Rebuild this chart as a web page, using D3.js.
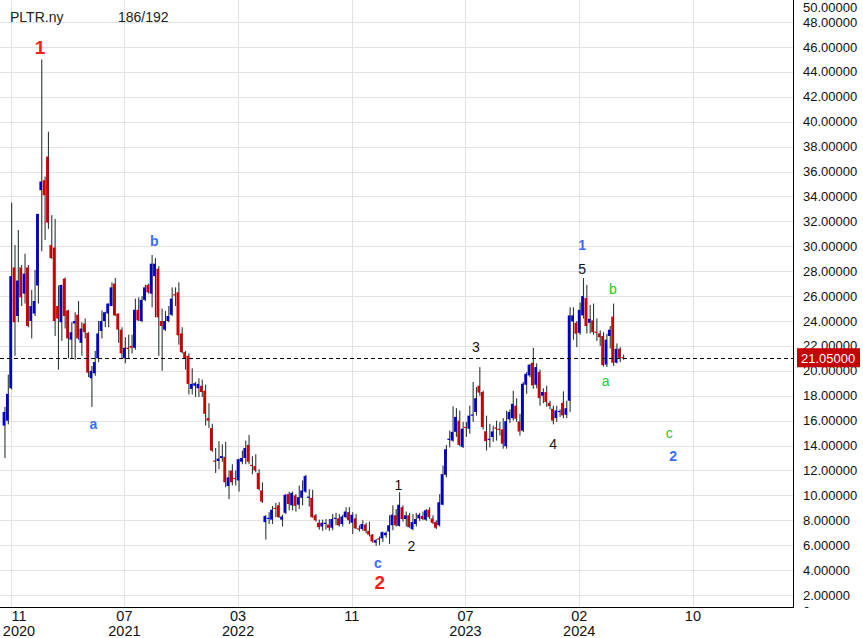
<!DOCTYPE html>
<html><head><meta charset="utf-8">
<script src="https://cdn.jsdelivr.net/npm/d3@7"></script>
<style>html,body{margin:0;padding:0;background:#fff;}svg{display:block;}</style>
</head><body>
<div id="chart"></div>
<script>
// ---- DATA (weekly bars, first bar index = -2) ----
const firstIndex = -2;
const opens = [15.6,16.0,18.6,28.3,24.4,28.3,26.2,28.3,24.0,24.6,26.85,34.5,35.3,37.2,30.1,29.9,25.2,23.9,27.4,24.85,22.5,23.8,24.5,22.25,23.8,23.05,19.4,19.8,21.0,23.2,24.0,24.6,25.2,27.0,24.6,23.3,21.0,21.85,22.0,21.85,24.9,24.0,25.7,26.9,26.2,27.6,28.2,24.0,23.3,24.0,24.5,26.15,26.3,23.0,21.5,21.2,18.55,18.8,18.6,18.8,18.4,16.2,15.4,12.8,12.75,13.0,13.1,10.75,12.0,11.4,11.2,12.7,13.0,14.05,12.45,12.35,11.8,10.4,7.85,8.1,8.05,9.0,9.2,8.05,8.6,10.1,9.2,10.0,9.25,9.8,10.3,9.8,9.8,8.4,7.8,7.5,7.75,7.65,7.4,8.1,8.15,7.7,8.25,8.65,7.8,8.15,7.35,7.3,7.65,7.15,6.85,6.2,6.55,6.55,6.8,7.1,7.6,8.4,7.55,9.05,8.1,8.4,7.3,7.7,8.15,8.35,8.05,8.85,8.15,7.85,7.6,9.25,11.65,14.45,14.4,15.1,16.0,13.9,15.5,15.35,16.4,16.7,18.8,18.3,15.15,14.5,14.68,15.45,15.35,15.3,13.95,16.1,16.2,17.2,15.93,15.2,18.88,19.63,20.65,18.88,19.9,18.0,18.29,17.43,16.95,16.2,16.7,17.43,16.47,17.6,23.96,23.86,23.05,24.45,25.84,23.86,24.05,23.15,23.0,22.8,20.5,22.8,24.35,20.65,21.77,21.1];
const highs = [17.1,19.7,33.5,30.1,31.3,28.5,29.4,28.5,26.5,28.1,32.6,45.0,35.6,39.2,32.5,32.2,26.85,26.9,27.5,24.9,23.9,24.7,25.6,23.9,24.2,23.1,20.4,21.6,24.0,24.85,24.75,25.4,27.1,27.45,24.6,23.5,22.7,22.9,22.9,25.8,25.9,26.0,26.9,27.0,29.3,29.05,28.4,25.0,24.8,25.2,26.7,26.7,27.1,23.5,21.6,21.4,20.2,19.1,19.4,19.3,18.9,17.4,15.75,13.8,14.35,14.1,14.3,12.0,12.5,12.0,12.95,13.6,14.4,14.85,13.15,13.3,12.1,11.05,8.4,8.65,9.15,9.4,9.45,8.45,10.1,10.3,10.3,10.1,10.8,11.2,11.65,10.5,10.45,8.5,8.05,8.05,8.1,8.1,8.5,8.6,8.5,8.45,9.05,9.05,8.65,8.5,7.6,8.0,7.8,7.9,6.9,6.5,6.7,7.1,7.1,8.4,9.2,8.9,10.25,9.2,8.7,8.6,8.5,8.6,8.6,8.7,8.9,9.05,8.4,8.0,10.1,12.4,14.05,15.2,17.15,17.0,16.8,15.9,15.9,17.2,19.1,18.7,20.3,18.4,16.4,15.75,15.6,16.0,15.9,16.2,16.8,16.9,18.4,17.8,16.55,19.1,19.9,20.57,21.85,20.6,20.1,18.6,18.8,17.6,17.2,17.2,16.9,18.35,17.6,25.1,25.1,24.0,25.5,27.45,26.9,25.3,25.4,24.2,23.25,23.1,22.97,23.6,25.4,22.2,21.9,21.3];
const lows = [13.0,15.7,18.5,21.2,23.9,25.2,25.4,23.5,22.6,24.4,25.4,29.6,30.5,31.4,29.0,22.8,20.1,22.4,23.4,21.0,21.0,20.9,22.5,21.2,22.6,19.5,17.1,19.6,20.7,22.6,23.5,23.5,25.2,24.4,22.25,21.0,20.6,21.0,21.4,21.7,24.0,23.9,25.6,26.2,25.1,24.3,21.2,20.0,23.2,23.9,24.4,25.2,22.1,21.4,20.1,18.1,18.1,17.9,17.9,17.9,15.6,15.4,13.5,11.8,12.1,12.7,10.65,9.7,10.8,10.8,10.3,12.5,12.5,12.5,11.7,11.85,10.4,9.4,6.45,7.7,7.7,8.25,8.2,7.5,8.5,8.8,8.8,8.7,8.9,9.2,10.2,9.1,8.2,7.9,7.25,7.15,7.25,7.15,7.2,7.6,7.5,7.5,8.15,7.7,6.9,7.3,7.1,7.15,6.95,6.7,6.2,5.95,6.0,6.25,6.6,6.1,7.2,7.5,7.5,7.9,7.5,7.4,7.2,7.5,7.95,8.0,7.95,8.1,7.7,7.3,7.5,9.2,11.45,13.85,14.3,14.7,13.95,13.8,14.7,14.95,15.9,16.4,18.0,15.3,13.6,13.85,14.3,14.4,14.8,13.75,13.75,15.8,16.0,15.9,14.8,15.08,18.16,19.5,18.56,18.6,17.2,17.4,17.1,16.9,15.7,15.9,16.3,16.2,16.2,16.7,22.5,21.9,22.9,24.2,23.0,23.0,22.9,22.4,22.0,20.35,20.3,21.8,20.4,20.6,20.7,20.9];
const closes = [16.7,18.15,27.6,23.9,27.25,25.9,27.8,23.6,25.2,25.6,32.6,35.2,34.1,31.9,29.05,24.0,24.2,26.9,24.4,22.6,23.1,24.0,22.6,23.4,23.1,19.85,20.0,20.7,23.0,24.0,24.7,25.4,26.7,24.45,23.3,21.4,21.85,21.75,21.85,24.9,24.05,25.7,26.7,26.3,28.6,28.6,24.3,23.6,24.0,24.4,25.8,26.05,22.85,21.5,21.0,18.95,18.95,19.0,18.95,18.3,16.55,16.0,13.6,12.7,12.95,13.15,11.05,11.45,11.05,11.35,12.9,13.0,13.8,12.7,12.4,12.0,10.5,9.5,8.35,8.2,8.85,8.95,8.25,8.3,10.05,9.3,10.2,9.15,9.85,10.4,11.55,9.9,8.25,8.0,7.45,7.8,7.8,7.4,8.1,8.2,7.6,8.3,8.7,8.0,8.45,7.35,7.3,7.7,7.15,6.85,6.3,6.4,6.45,7.05,7.0,7.6,8.45,7.6,9.25,8.1,8.4,7.45,7.85,8.1,8.45,8.1,8.8,8.25,7.8,7.4,9.45,11.7,13.7,14.55,15.1,16.3,14.05,15.35,15.4,16.4,16.5,17.8,18.25,15.48,14.35,14.55,15.13,15.38,15.25,14.15,15.96,16.7,17.35,16.15,15.13,18.96,19.76,20.49,18.83,20.3,17.81,18.3,17.49,17.17,16.0,16.82,16.78,16.42,17.0,24.45,24.45,22.98,24.9,26.0,23.6,24.18,23.1,23.05,22.7,20.45,22.5,23.3,20.65,21.77,21.05,21.05];

const tickIdx    = [0, 34, 68, 102, 136, 170, 204];
const tickMonths = ["11","07","03","11","07","02","10"];
const tickYears  = ["2020","2021","2022","","2023","2024",""];
const yTickValues = d3.range(0, 51, 2);
const lastPrice = 21.05;

// wave labels: bar index, price, text, style
const waveIdx   = [8.8, 24.7, 42.9, 109.8, 110.4, 115.9, 119.8, 139.1, 162.2, 170.9, 170.9, 177.9, 180.1, 196.9, 198.1];
const wavePrice = [46.0, 15.7, 30.4, 4.57, 3.0, 10.8, 5.9, 21.9, 14.1, 28.2, 30.1, 19.2, 26.6, 15.0, 13.2];
const waveText  = ["1","a","b","c","2","1","2","3","4","5","1","a","b","c","2"];
const waveKind  = ["red","blue","blue","blue","red","black","black","black","black","black","blue","green","green","green","blue"];

// ---- CHART ----
const W = 863, H = 638;
const plotR = 793, plotB = 607;
const x = d3.scaleLinear().domain([0, 204]).range([10.7, 692.9]);
const y = d3.scaleLinear().domain([2, 46]).range([595, 47]);

const svg = d3.select("#chart").append("svg").attr("width", W).attr("height", H);
const defs = svg.append("defs");
defs.append("clipPath").attr("id","plotClip").append("rect").attr("x",0).attr("y",0).attr("width",plotR).attr("height",plotB);
defs.append("clipPath").attr("id","axClip").append("rect").attr("x",plotR).attr("y",0).attr("width",W-plotR).attr("height",plotB+1);

const grid = svg.append("g").attr("clip-path","url(#plotClip)");
grid.selectAll("line.h").data(yTickValues.filter(v => y(v) > 0 && y(v) < plotB)).join("line")
  .attr("x1",0).attr("x2",plotR).attr("y1",d=>Math.round(y(d))+0.5).attr("y2",d=>Math.round(y(d))+0.5)
  .attr("stroke","#e2e2e2").attr("stroke-width",1);
grid.selectAll("line.v").data(tickIdx.filter(i => x(i) < plotR)).join("line")
  .attr("x1",d=>Math.round(x(d))+0.5).attr("x2",d=>Math.round(x(d))+0.5).attr("y1",0).attr("y2",plotB)
  .attr("stroke","#e2e2e2").attr("stroke-width",1);

// bars
const bars = opens.map((o,k)=>({i:firstIndex+k,o,h:highs[k],l:lows[k],c:closes[k]}));
const bg = svg.append("g").attr("clip-path","url(#plotClip)");
bg.selectAll("rect.wick").data(bars).join("rect")
  .attr("x",d=>x(d.i)+0.4).attr("width",1.1)
  .attr("y",d=>y(d.h)).attr("height",d=>Math.max(1,y(d.l)-y(d.h)))
  .attr("fill","#2e3838");
bg.selectAll("rect.body").data(bars).join("rect")
  .attr("x",d=>x(d.i)-1.4).attr("width",2.6)
  .attr("y",d=>y(Math.max(d.o,d.c))).attr("height",d=>Math.max(1.2,Math.abs(y(d.o)-y(d.c))))
  .attr("fill",d=>d.c>=d.o?"#0000cc":"#cc0000");

// dashed last price line
svg.append("line").attr("x1",0).attr("x2",plotR).attr("y1",Math.round(y(lastPrice))+0.5).attr("y2",Math.round(y(lastPrice))+0.5)
  .attr("stroke","#000").attr("stroke-width",1).attr("stroke-dasharray","4,3");

// axes lines
svg.append("line").attr("x1",plotR+0.5).attr("x2",plotR+0.5).attr("y1",0).attr("y2",plotB+1).attr("stroke","#000");
svg.append("line").attr("x1",0).attr("x2",plotR+1).attr("y1",plotB+0.5).attr("y2",plotB+0.5).attr("stroke","#000");

// y labels
const yl = svg.append("g").attr("clip-path","url(#axClip)");
yl.selectAll("text").data(yTickValues).join("text")
  .attr("x",803).attr("y",d=>{let p=y(d); if(p<7)p=7; if(p>611)p=611.5; return p;})
  .attr("dominant-baseline","central")
  .attr("font-family","'Liberation Sans', Arial, sans-serif").attr("font-size",13).attr("fill","#111")
  .text(d=>d===0 ? "0" : d.toFixed(5));

// price box
svg.append("rect").attr("x",797).attr("y",y(lastPrice)-9.5).attr("width",63).attr("height",19).attr("fill","#c40000");
svg.append("text").attr("x",801).attr("y",y(lastPrice)+0.5).attr("dominant-baseline","central")
  .attr("font-family","'Liberation Sans', Arial, sans-serif").attr("font-size",13).attr("fill","#fff").text(lastPrice.toFixed(5));

// x labels
const labX = d => Math.max(x(d), 19);
const xl = svg.append("g");
xl.selectAll("text.m").data(tickIdx).join("text")
  .attr("x",d=>labX(d)).attr("y",621).attr("text-anchor","middle")
  .attr("font-family","'Liberation Sans Narrow', 'Arial Narrow', sans-serif").attr("font-size",14.5).attr("fill","#111")
  .text((d,k)=>tickMonths[k]);
xl.selectAll("text.yr").data(tickIdx).join("text")
  .attr("x",d=>labX(d)).attr("y",635.5).attr("text-anchor","middle")
  .attr("font-family","'Liberation Sans Narrow', 'Arial Narrow', sans-serif").attr("font-size",14.5).attr("fill","#111")
  .text((d,k)=>tickYears[k]);

// title
svg.append("text").attr("x",10).attr("y",22).attr("font-family","'Liberation Sans', Arial, sans-serif").attr("font-size",14).attr("fill","#222").text("PLTR.ny");
svg.append("text").attr("x",118).attr("y",22).attr("font-family","'Liberation Sans', Arial, sans-serif").attr("font-size",14).attr("fill","#222").text("186/192");

// wave labels
const styleMap = {
  red:{fill:"#ff1a1a",size:19,weight:"bold"},
  blue:{fill:"#3a6cff",size:14,weight:"bold"},
  black:{fill:"#111",size:14,weight:"normal"},
  green:{fill:"#22cc22",size:14,weight:"normal"}
};
svg.append("g").selectAll("text").data(waveText).join("text")
  .attr("x",(d,k)=>x(waveIdx[k])).attr("y",(d,k)=>y(wavePrice[k]))
  .attr("text-anchor","middle").attr("dominant-baseline","central")
  .attr("font-family","'Liberation Sans', Arial, sans-serif")
  .attr("font-size",(d,k)=>styleMap[waveKind[k]].size)
  .attr("font-weight",(d,k)=>styleMap[waveKind[k]].weight)
  .attr("fill",(d,k)=>styleMap[waveKind[k]].fill)
  .text(d=>d);
</script>
</body></html>
